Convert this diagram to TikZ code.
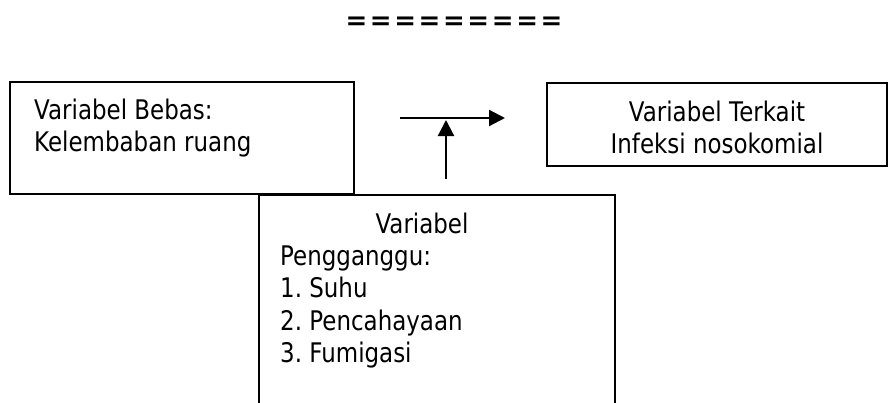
\documentclass[tikz,border=0pt]{standalone}
\usepackage{fontspec}
\setmainfont{DejaVu Sans}[FakeStretch=0.85]
\newfontfamily\eqfont{DejaVu Sans}[LetterSpace=10]
\usetikzlibrary{arrows.meta}
\tikzset{
  box/.style={draw=black, line width=1.6pt, inner sep=0pt, fill=white},
  txt/.style={inner sep=0pt, font=\fontsize{27}{32}\selectfont, text=black},
  arr/.style={line width=2.2pt, -{Triangle[length=16pt,width=16pt]}}
}
\begin{document}
\frenchspacing
\begin{tikzpicture}[x=1pt,y=-1pt]
\useasboundingbox (0,0) rectangle (889,402);
\clip (0,0) rectangle (889,402);
\fill[white] (0,0) rectangle (889,402);
% title
\node[inner sep=0pt, font=\eqfont\bfseries\fontsize{26}{30}\selectfont, anchor=base] (eq) at (454,29) {=========};
% boxes
\node[box, minimum width=344pt, minimum height=112pt] (b1) at (182,138) {};
\node[box, minimum width=340pt, minimum height=83pt] (b2) at (717,124.5) {};
\node[box, minimum width=356pt, minimum height=240pt] (b3) at (437,315) {};
% texts box 1
\node[txt, anchor=base west] (t1a) at (34,119) {Variabel Bebas:};
\node[txt, anchor=base west] (t1b) at (34,151) {Kelembaban ruang};
% texts box 2
\node[txt, anchor=base] (t2a) at (717,121) {Variabel Terkait};
\node[txt, anchor=base] (t2b) at (717,153) {Infeksi nosokomial};
% texts box 3
\node[txt, anchor=base] (t3a) at (422,233) {Variabel};
\node[txt, anchor=base west] (t3b) at (280,265) {Pengganggu:};
\node[txt, anchor=base west] (t3c) at (280,297) {1. Suhu};
\node[txt, anchor=base west] (t3d) at (280,330) {2. Pencahayaan};
\node[txt, anchor=base west] (t3e) at (280,362) {3. Fumigasi};
% arrows
\coordinate (h1) at (400,118);
\coordinate (h2) at (505,118);
\coordinate (v1) at (446,179);
\coordinate (v2) at (446,120);
\draw[arr] (h1) -- (h2);
\draw[arr] (v1) -- (v2);
\end{tikzpicture}
\end{document}
